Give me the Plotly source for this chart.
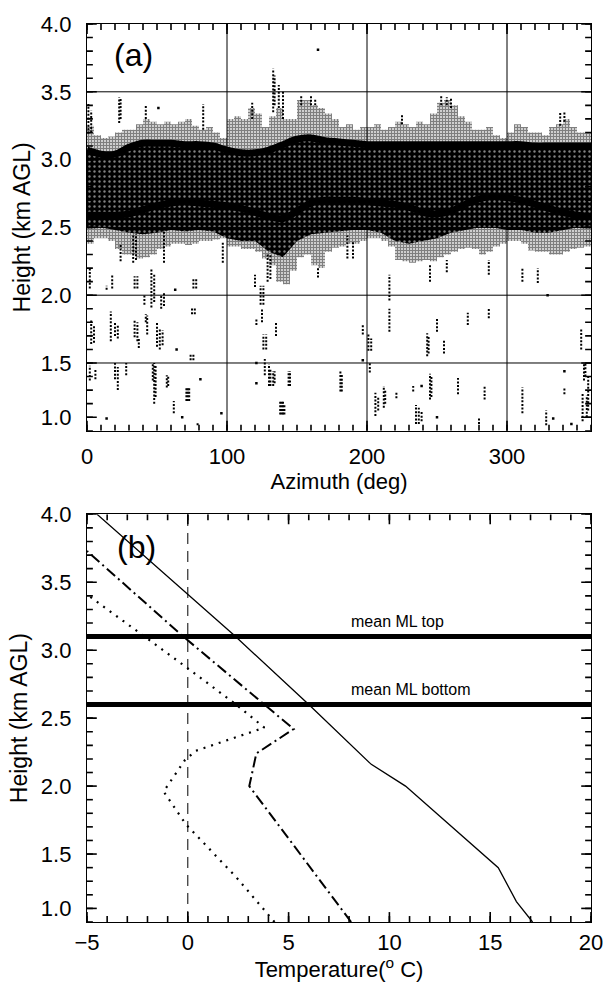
import plotly.graph_objects as go

FONT = "Liberation Sans, Arial, sans-serif"

# ---------------- Panel (a): radar melting-layer data ----------------
ml_az = list(range(0, 361, 10))
ml_top = [3.07, 3.04, 3.04, 3.09, 3.12, 3.12, 3.12, 3.11, 3.11, 3.10,
          3.07, 3.05, 3.05, 3.07, 3.11, 3.15, 3.16, 3.14, 3.13, 3.12,
          3.11, 3.11, 3.11, 3.11, 3.11, 3.11, 3.11, 3.11, 3.11, 3.11,
          3.11, 3.11, 3.10, 3.10, 3.10, 3.10, 3.10]
ml_bot = [2.59, 2.59, 2.59, 2.60, 2.63, 2.66, 2.68, 2.69, 2.68, 2.67,
          2.66, 2.64, 2.61, 2.58, 2.565, 2.62, 2.68, 2.70, 2.70, 2.70,
          2.69, 2.68, 2.67, 2.65, 2.61, 2.60, 2.62, 2.67, 2.71, 2.73,
          2.72, 2.70, 2.67, 2.64, 2.61, 2.59, 2.58]
core_bot = [2.50, 2.50, 2.48, 2.46, 2.45, 2.46, 2.48, 2.47, 2.48, 2.47,
            2.42, 2.40, 2.40, 2.32, 2.28, 2.40, 2.45, 2.46, 2.47, 2.48,
            2.48, 2.46, 2.40, 2.38, 2.40, 2.42, 2.46, 2.48, 2.50, 2.50,
            2.48, 2.48, 2.46, 2.46, 2.48, 2.50, 2.50]

fringe_az = list(range(0, 361, 5))
fringe_top = [3.25, 3.18, 3.16, 3.17, 3.20, 3.22, 3.22, 3.26, 3.30, 3.28,
              3.26, 3.28, 3.26, 3.28, 3.30, 3.25, 3.22, 3.24, 3.20, 3.16,
              3.30, 3.32, 3.30, 3.38, 3.34, 3.24, 3.32, 3.38, 3.30, 3.30,
              3.44, 3.44, 3.40, 3.38, 3.34, 3.30, 3.24, 3.26, 3.22, 3.24,
              3.24, 3.26, 3.22, 3.24, 3.28, 3.26, 3.24, 3.28, 3.26, 3.34,
              3.42, 3.44, 3.40, 3.32, 3.28, 3.22, 3.22, 3.24, 3.18, 3.16,
              3.20, 3.26, 3.24, 3.20, 3.20, 3.18, 3.24, 3.26, 3.30, 3.24,
              3.20, 3.20, 3.20]
fringe_bot = [2.38, 2.42, 2.42, 2.40, 2.34, 2.30, 2.30, 2.27, 2.28, 2.30,
              2.34, 2.36, 2.38, 2.38, 2.37, 2.38, 2.40, 2.40, 2.41, 2.42,
              2.36, 2.36, 2.34, 2.34, 2.32, 2.27, 2.22, 2.10, 2.08, 2.18,
              2.28, 2.30, 2.22, 2.20, 2.32, 2.35, 2.36, 2.38, 2.38, 2.40,
              2.42, 2.42, 2.40, 2.36, 2.26, 2.25, 2.24, 2.25, 2.26, 2.25,
              2.28, 2.30, 2.32, 2.34, 2.35, 2.34, 2.30, 2.32, 2.36, 2.38,
              2.40, 2.40, 2.38, 2.33, 2.32, 2.32, 2.30, 2.30, 2.32, 2.34,
              2.35, 2.36, 2.36]

# isolated echo streaks: azimuth, lowest and highest gate height (km)
streak_az = [2, 3, 5, 2, 6, 14, 17, 20, 22, 20, 22, 18, 28, 24, 34, 36, 34, 36, 37,
             33, 35, 41, 43, 42, 46, 48, 47, 48, 49, 50, 52, 54, 53, 55, 55, 57, 58,
             62, 71, 72, 73, 74, 76, 75, 77, 76, 78, 79, 97,
             120, 121, 124, 126, 125, 126, 128, 127, 130, 131, 129, 131, 133, 135, 134,
             138, 139, 140, 141, 144, 145, 165,
             181, 182, 186, 190, 197, 201, 202, 203, 206, 208, 212, 213, 216, 216, 221,
             233, 235, 237, 239, 243, 244, 245, 246, 245, 250, 255, 257, 265, 272, 280,
             284, 287, 287, 311, 311, 322, 328, 341, 353, 355, 356, 354, 357, 358,
             1, 3, 23, 24, 42, 83, 118, 133, 134, 137, 140, 153, 160, 163, 225, 253,
             257, 260, 338, 341]
streak_lo = [2.05, 1.64, 1.65, 1.37, 1.38, 2.04, 1.66, 1.70, 1.68, 1.38, 1.30, 2.05, 1.41, 2.25, 2.05, 2.05, 1.69, 1.66, 1.61,
             2.24, 2.26, 1.93, 1.71, 1.80, 1.91, 1.95, 1.37, 1.20, 1.25, 1.62, 1.60, 1.63, 1.90, 1.92, 2.24, 1.32, 1.33,
             1.13, 1.22, 1.22, 1.22, 1.52, 1.52, 1.86, 1.86, 2.05, 2.05, 1.04, 2.24,
             2.06, 1.78, 1.93, 1.93, 1.80, 1.60, 1.60, 1.41, 1.33, 1.33, 2.10, 2.12, 1.33, 1.70, 1.35,
             1.12, 1.12, 1.12, 1.12, 1.33, 1.33, 2.13,
             1.29, 1.29, 2.27, 2.27, 1.71, 1.59, 1.43, 1.59, 1.11, 1.15, 1.17, 1.20, 1.96, 1.73, 1.24,
             1.29, 1.05, 1.05, 1.07, 1.55, 1.57, 1.23, 1.25, 2.10, 1.73, 1.57, 2.17, 1.27, 1.78, 1.05,
             1.23, 1.83, 2.15, 2.10, 1.13, 2.09, 1.04, 1.27, 1.60, 1.37, 1.40, 1.07, 1.10, 1.15,
             3.19, 3.20, 3.27, 3.30, 3.30, 3.22, 3.30, 3.35, 3.40, 3.38, 3.30, 3.40, 3.40, 3.40, 3.26, 3.40,
             3.40, 3.38, 3.25, 3.28]
streak_hi = [2.20, 1.82, 1.78, 1.48, 1.45, 2.07, 1.88, 1.80, 1.78, 1.50, 1.47, 2.15, 1.50, 2.38, 2.14, 2.14, 1.82, 1.80, 1.69,
             2.45, 2.45, 2.00, 1.85, 1.86, 2.20, 2.15, 1.50, 1.50, 1.48, 1.80, 1.76, 1.74, 2.00, 2.02, 2.48, 1.41, 1.40,
             1.22, 1.32, 1.32, 1.32, 1.57, 1.57, 1.91, 1.91, 2.13, 2.13, 1.06, 2.40,
             2.15, 1.82, 2.07, 2.07, 1.90, 1.71, 1.71, 1.53, 1.49, 1.45, 2.30, 2.30, 1.44, 1.80, 1.44,
             1.22, 1.22, 1.22, 1.20, 1.44, 1.44, 2.20,
             1.45, 1.42, 2.44, 2.40, 1.78, 1.71, 1.50, 1.68, 1.28, 1.25, 1.33, 1.30, 2.15, 1.90, 1.28,
             1.33, 1.19, 1.17, 1.15, 1.72, 1.70, 1.42, 1.40, 2.22, 1.83, 1.67, 2.26, 1.39, 1.87, 1.10,
             1.33, 1.91, 2.26, 2.20, 1.32, 2.20, 1.15, 1.32, 1.76, 1.50, 1.50, 1.28, 1.26, 1.40,
             3.41, 3.36, 3.46, 3.46, 3.40, 3.41, 3.42, 3.67, 3.62, 3.55, 3.50, 3.48, 3.47, 3.45, 3.33, 3.47,
             3.46, 3.45, 3.35, 3.36]

# single isolated gates
dot_az = [63, 64, 68, 81, 96, 121, 121, 165, 197, 239, 250, 329, 333, 341, 346, 14, 51]
dot_h = [2.04, 1.60, 1.10, 1.38, 1.13, 1.50, 1.35, 3.81, 1.52, 1.33, 1.10, 2.00, 1.09, 1.44, 1.05, 1.09, 3.38]

grid_az = [100, 200, 300]
grid_h = [1.5, 2.0, 2.5, 3.0, 3.5]

az_range = [0, 360]
az_ticks = [0, 100, 200, 300]
az_minor = list(range(0, 361, 10))
h_range = [1.0, 4.0]
h_tickvals = [1.1, 1.5, 2.0, 2.5, 3.0, 3.5, 4.0]
h_ticktext = ["1.0", "1.5", "2.0", "2.5", "3.0", "3.5", "4.0"]
h_minor = [round(1.0 + 0.1 * i, 1) for i in range(31)]

# ---------------- Panel (b): temperature profiles ----------------
solid_h = [1.0, 1.15, 1.40, 2.0, 2.16, 2.26, 2.40, 2.60, 3.11, 4.0]
solid_t = [17.1, 16.3, 15.4, 10.8, 9.1, 8.4, 7.4, 6.0, 2.3, -4.5]
dashdot_h = [1.0, 2.0, 2.24, 2.42, 2.60, 3.11, 3.73]
dashdot_t = [8.1, 3.05, 3.4, 5.25, 3.8, -0.3, -5.0]
dotted_h = [1.0, 1.33, 1.72, 1.96, 2.19, 2.26, 2.43, 2.60, 2.90, 3.41]
dotted_t = [4.3, 2.4, -0.1, -1.2, -0.15, 0.4, 3.8, 2.4, -0.3, -5.0]
zero_t = [0, 0]
zero_h = [1.0, 4.0]
mean_ml = [2.6, 3.1]
mean_ml_labels = ["mean ML bottom", "mean ML top"]
t_range = [-5, 20]
t_ticks = [-5, 0, 5, 10, 15, 20]
t_minor = list(range(-5, 21))

# ---------------- layout geometry ----------------
W, H = 615, 982
M_L, M_R, M_T, M_B = 87, 13, 17, 60
DOM_A = [0.547, 1.0]
DOM_B = [0.0, 0.454]
MAJOR_LEN, MINOR_LEN = 10, 6
PLOT_W = W - M_L - M_R
PLOT_H = H - M_T - M_B

fig = go.Figure()

# fringe (sparser echoes)
fig.add_trace(go.Scatter(x=fringe_az, y=fringe_bot, mode="lines", line=dict(width=0, shape="hv"),
                         showlegend=False, hoverinfo="skip", xaxis="x", yaxis="y"))
fig.add_trace(go.Scatter(x=fringe_az, y=fringe_top, mode="lines", line=dict(width=0, shape="hv"),
                         fill="tonexty", fillcolor="white",
                         fillpattern=dict(shape="+", fgcolor="black", bgcolor="white", size=3, solidity=0.7),
                         showlegend=False, hoverinfo="skip", xaxis="x", yaxis="y"))
# dense core
fig.add_trace(go.Scatter(x=ml_az, y=core_bot, mode="lines", line=dict(width=0),
                         showlegend=False, hoverinfo="skip", xaxis="x", yaxis="y"))
fig.add_trace(go.Scatter(x=ml_az, y=ml_top, mode="lines", line=dict(width=0),
                         fill="tonexty", fillcolor="black",
                         fillpattern=dict(shape=".", fgcolor="white", bgcolor="black", size=5, solidity=0.18),
                         showlegend=False, hoverinfo="skip", xaxis="x", yaxis="y"))

# isolated streaks as dotted vertical lines
sx, sy = [], []
for a, lo, hi in zip(streak_az, streak_lo, streak_hi):
    sx += [a, a, None]
    sy += [lo, hi, None]
fig.add_trace(go.Scatter(x=sx, y=sy, mode="lines", line=dict(color="black", width=2, dash="2px,1.6px"),
                         showlegend=False, hoverinfo="skip", xaxis="x", yaxis="y"))
fig.add_trace(go.Scatter(x=dot_az, y=dot_h, mode="markers", marker=dict(color="black", size=2.5, symbol="square"),
                         showlegend=False, hoverinfo="skip", xaxis="x", yaxis="y"))

# melting layer top / bottom
for arr in (ml_top, ml_bot):
    fig.add_trace(go.Scatter(x=ml_az, y=arr, mode="lines", line=dict(color="black", width=7, shape="spline"),
                             showlegend=False, hoverinfo="skip", xaxis="x", yaxis="y"))

# ---- panel b traces ----
fig.add_trace(go.Scatter(x=zero_t, y=zero_h, mode="lines", line=dict(color="black", width=1, dash="11px,7px"),
                         showlegend=False, hoverinfo="skip", xaxis="x2", yaxis="y2"))
for h in mean_ml:
    fig.add_trace(go.Scatter(x=t_range, y=[h, h], mode="lines", line=dict(color="black", width=5),
                             showlegend=False, hoverinfo="skip", xaxis="x2", yaxis="y2"))
fig.add_trace(go.Scatter(x=solid_t, y=solid_h, mode="lines", line=dict(color="black", width=1.3),
                         showlegend=False, hoverinfo="skip", xaxis="x2", yaxis="y2"))
fig.add_trace(go.Scatter(x=dashdot_t, y=dashdot_h, mode="lines",
                         line=dict(color="black", width=2, dash="11px,4px,2px,4px"),
                         showlegend=False, hoverinfo="skip", xaxis="x2", yaxis="y2"))
fig.add_trace(go.Scatter(x=dotted_t, y=dotted_h, mode="lines",
                         line=dict(color="black", width=2.2, dash="2px,6px"),
                         showlegend=False, hoverinfo="skip", xaxis="x2", yaxis="y2"))


# ---- inward tick marks on all four sides (drawn as line traces) ----
def add_ticks(xa, ya, xrng, yrng, dom, xmaj, xmin, ymaj, ymin):
    px_h = PLOT_H * (dom[1] - dom[0])
    kx = (xrng[1] - xrng[0]) / PLOT_W
    ky = (yrng[1] - yrng[0]) / px_h
    tx, ty = [], []
    for vals, ln in ((xmin, MINOR_LEN), (xmaj, MAJOR_LEN)):
        for v in vals:
            tx += [v, v, None, v, v, None]
            ty += [yrng[0], yrng[0] + ln * ky, None, yrng[1], yrng[1] - ln * ky, None]
    for vals, ln in ((ymin, MINOR_LEN), (ymaj, MAJOR_LEN)):
        for v in vals:
            tx += [xrng[0], xrng[0] + ln * kx, None, xrng[1], xrng[1] - ln * kx, None]
            ty += [v, v, None, v, v, None]
    fig.add_trace(go.Scatter(x=tx, y=ty, mode="lines", line=dict(color="black", width=1.6),
                             showlegend=False, hoverinfo="skip", xaxis=xa, yaxis=ya, cliponaxis=False))


add_ticks("x", "y", az_range, h_range, DOM_A, az_ticks, az_minor, h_tickvals, h_minor)
add_ticks("x2", "y2", t_range, h_range, DOM_B, t_ticks, t_minor, h_tickvals, h_minor)

shapes = []
for a in grid_az:
    shapes.append(dict(type="line", xref="x", yref="y domain", x0=a, x1=a, y0=0, y1=1,
                       line=dict(color="black", width=1), layer="above"))
for h in grid_h:
    shapes.append(dict(type="line", xref="x domain", yref="y", x0=0, x1=1, y0=h, y1=h,
                       line=dict(color="black", width=1), layer="above"))

annotations = [
    dict(text="(a)", xref="x domain", yref="y domain", x=0.05, y=0.925, xanchor="left", yanchor="middle",
         showarrow=False, font=dict(size=32, family=FONT, color="black")),
    dict(text="(b)", xref="x2 domain", yref="y2 domain", x=0.055, y=0.92, xanchor="left", yanchor="middle",
         showarrow=False, font=dict(size=32, family=FONT, color="black")),
]
for h, lab in zip(mean_ml, mean_ml_labels):
    annotations.append(dict(text=lab, xref="x2", yref="y2", x=8.0, y=h, xanchor="left", yanchor="bottom",
                            yshift=5, showarrow=False, font=dict(size=16, family=FONT, color="black")))

axis_common = dict(showline=True, linecolor="black", linewidth=1.3, mirror=True, ticks="",
                   showgrid=False, zeroline=False,
                   tickfont=dict(size=22, family=FONT, color="black"))

fig.update_layout(
    width=W, height=H, margin=dict(l=M_L, r=M_R, t=M_T, b=M_B),
    paper_bgcolor="white", plot_bgcolor="white", showlegend=False,
    shapes=shapes, annotations=annotations,
    xaxis=dict(axis_common, domain=[0, 1], range=az_range, tickvals=az_ticks, anchor="y",
               ticklabelstandoff=6,
               title=dict(text="Azimuth (deg)", font=dict(size=22, family=FONT, color="black"), standoff=0)),
    yaxis=dict(axis_common, domain=DOM_A, range=h_range,
               tickvals=h_tickvals, ticktext=h_ticktext, anchor="x", ticklabelstandoff=10,
               title=dict(text="Height (km AGL)", font=dict(size=23, family=FONT, color="black"), standoff=3)),
    xaxis2=dict(axis_common, domain=[0, 1], range=t_range, tickvals=t_ticks, anchor="y2",
                title=dict(text="Temperature(<sup>o</sup> C)", font=dict(size=22, family=FONT, color="black"),
                           standoff=0)),
    yaxis2=dict(axis_common, domain=DOM_B, range=h_range,
                tickvals=h_tickvals, ticktext=h_ticktext, anchor="x2", ticklabelstandoff=10,
                title=dict(text="Height (km AGL)", font=dict(size=23, family=FONT, color="black"), standoff=6)),
)

fig.write_html("out.html")
